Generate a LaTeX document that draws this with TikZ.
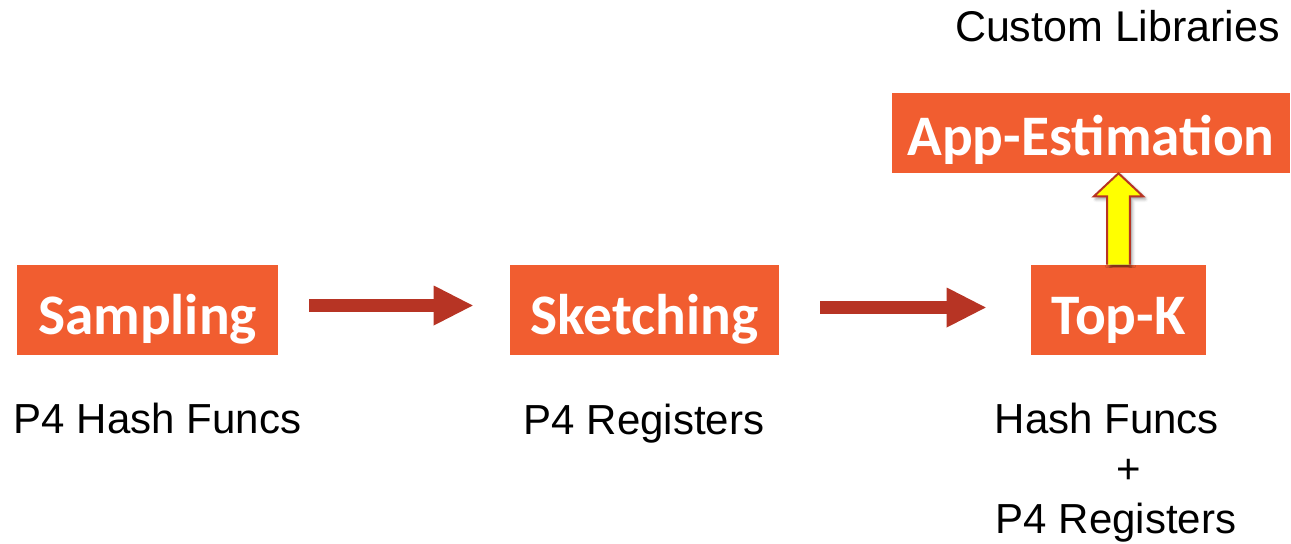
\documentclass[tikz,border=0pt]{standalone}
\usepackage{fontspec}
\setmainfont{Liberation Sans}
\newfontfamily\boxfont{Carlito}
\usetikzlibrary{arrows.meta,calc,shadows.blur}

\definecolor{boxorange}{RGB}{241,93,48}
\definecolor{flowred}{RGB}{183,52,36}
\definecolor{liftyellow}{RGB}{255,255,0}

\tikzset{
  stage/.style={fill=boxorange, text=white, inner sep=0pt,
    font=\boxfont\bfseries\fontsize{43pt}{52pt}\selectfont,
    minimum height=67.5pt, text height=40.5pt, text depth=4.5pt},
  caption/.style={anchor=base, inner sep=0pt, text=black,
    font=\fontsize{31.5pt}{38pt}\selectfont},
  flow/.style={draw=flowred, line width=9.75pt,
    -{Triangle[length=29.25pt,width=30pt,line width=0pt]}},
  lift/.style={fill=liftyellow, draw=flowred, line width=1.5pt, line join=miter,
    blur shadow={shadow xshift=1.5pt, shadow yshift=-2pt,
      shadow blur radius=2.5pt, shadow opacity=45}}
}

\begin{document}
\begin{tikzpicture}[x=0.75pt, y=-0.75pt]
  \useasboundingbox (0,0) rectangle (1291,543);

  % processing stages
  \node[stage, minimum width=195.75pt] (samp) at (147.5,310) {Sampling};
  \node[stage, minimum width=201.75pt] (sketch) at (644.5,310) {Sketching};
  \node[stage, minimum width=131.25pt] (topk) at (1118.5,310) {Top-K};
  \node[stage, minimum width=298.5pt, minimum height=60pt,
        text height=39pt, text depth=6pt] (app) at (1091,133) {App-Estimation};

  % captions
  \node[caption] (capsamp) at (157.5,433) {P4 Hash Funcs};
  \node[caption] (capsketch) at (644,434) {P4 Registers};
  \node[caption] (caphash) at (1107,433) {Hash Funcs};
  \node[caption] (capplus) at (1129,483) {+};
  \node[caption] (capreg) at (1116,533) {P4 Registers};
  \node[caption, font=\fontsize{32.25pt}{38pt}\selectfont] (caplib) at (1117.5,41) {Custom Libraries};

  % flow between stages
  \draw[flow, shorten <=23.25pt, shorten >=27.75pt]
    (samp.east |- 0,305.5) -- (sketch.west |- 0,305.5);
  \draw[flow, shorten <=30.75pt, shorten >=33.75pt]
    (sketch.east |- 0,307.5) -- (topk.west |- 0,307.5);

  % block arrow from Top-K up to App-Estimation
  \coordinate (lbase) at (topk.north);
  \coordinate (ltip) at (topk.north |- app.south);
  \draw[lift]
    ($(lbase)+(-8.6pt,0)$) -- ($(ltip)+(-8.6pt,-17.25pt)$)
    -- ($(ltip)+(-18.4pt,-17.25pt)$) -- (ltip)
    -- ($(ltip)+(18.4pt,-17.25pt)$) -- ($(ltip)+(8.6pt,-17.25pt)$)
    -- ($(lbase)+(8.6pt,0)$);
\end{tikzpicture}
\end{document}
